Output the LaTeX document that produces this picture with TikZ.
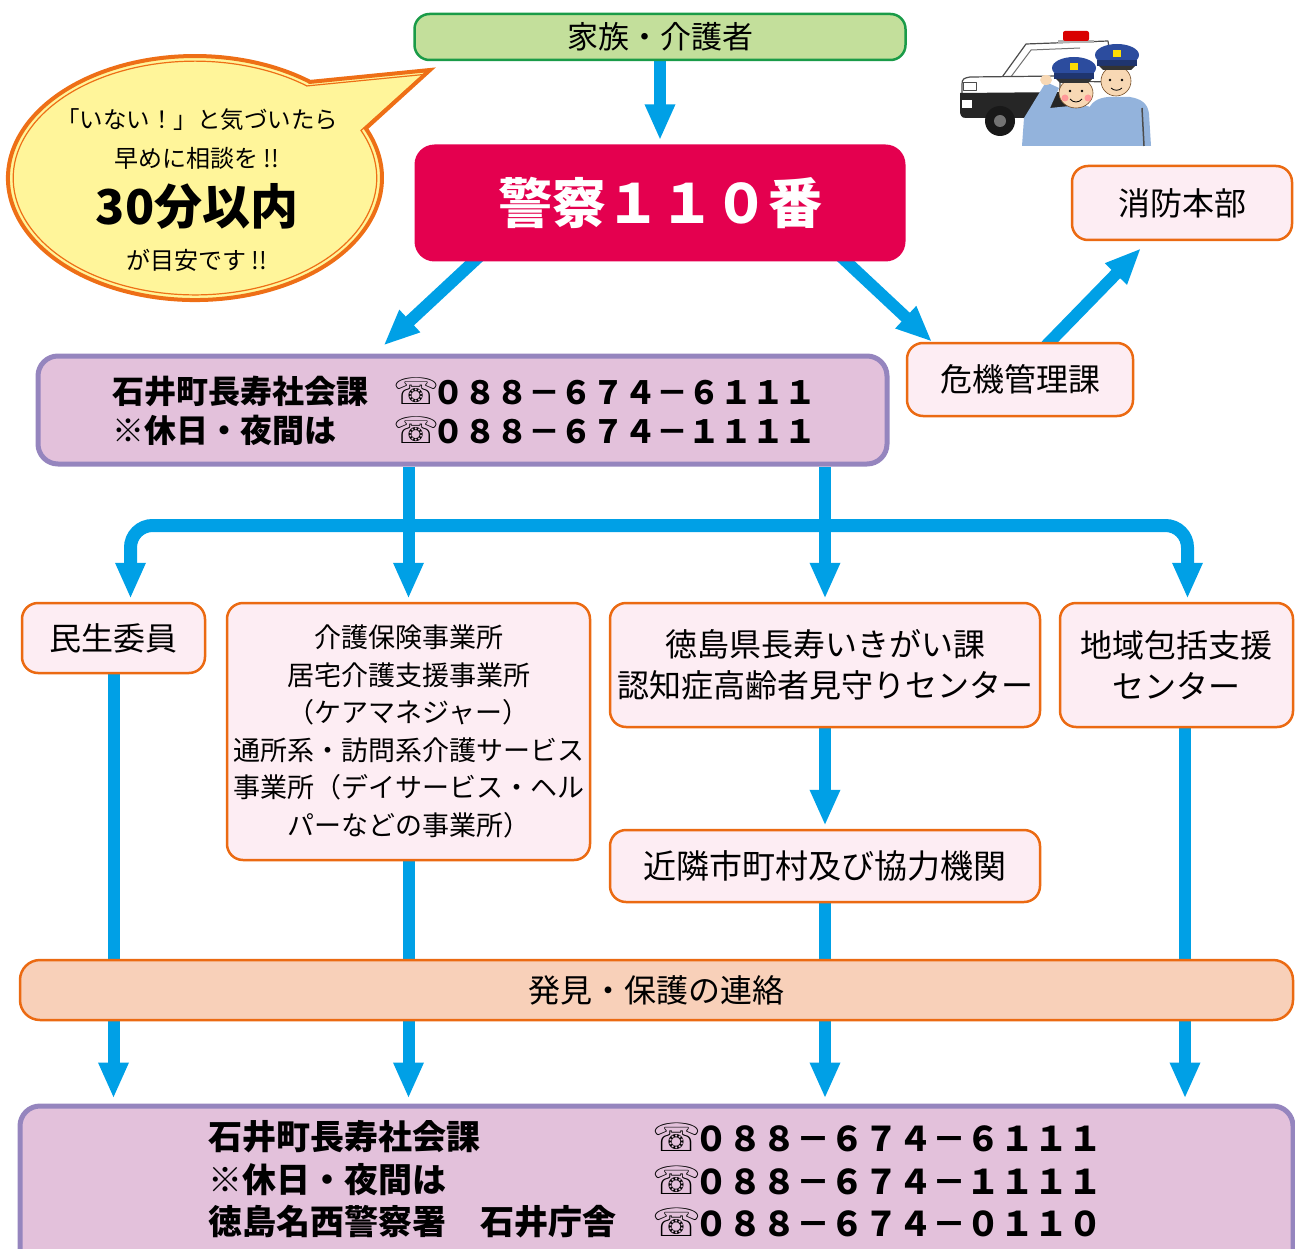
\documentclass[tikz,border=0pt]{standalone}
\usepackage{fontspec}
\newfontfamily\jp{Noto Sans CJK JP}
\newfontfamily\symfont{DejaVu Sans}
\usetikzlibrary{arrows.meta,calc,backgrounds}

\definecolor{flowblue}{HTML}{00A0E6}
\definecolor{edgeorange}{HTML}{EB6A12}
\definecolor{boxpink}{HTML}{FDEDF3}
\definecolor{lilac}{HTML}{E3C1DB}
\definecolor{lilacedge}{HTML}{9585BE}
\definecolor{leafgreen}{HTML}{C3DF9B}
\definecolor{leafedge}{HTML}{1A9B48}
\definecolor{alarmred}{HTML}{E4004F}
\definecolor{peach}{HTML}{F8D0B9}
\definecolor{bubbleyellow}{HTML}{FFF59A}
\definecolor{bubbleedge}{HTML}{EE6F16}
\definecolor{officerblue}{HTML}{93B3DC}
\definecolor{capblue}{HTML}{2C4C9E}
\definecolor{skin}{HTML}{F8D8B4}

\newcommand\tel{\makebox[1em]{\scalebox{1.15}{\symfont ☏}}}

\tikzset{
  flowtip/.tip={Triangle[width=28pt,length=36pt]},
  flow/.style={draw=flowblue, line width=12pt, -flowtip},
  pinkbox/.style={draw=edgeorange, fill=boxpink, line width=2.5pt, rounded corners=16pt,
    align=center, inner sep=0pt, font=\jp\fontsize{32}{41}\selectfont},
  lilacbox/.style={draw=lilacedge, fill=lilac, line width=5pt, rounded corners=20pt, inner sep=0pt},
  boldtxt/.style={anchor=west, inner sep=0pt, font=\jp\bfseries\fontsize{32}{38}\selectfont},
  bigtxt/.style={anchor=west, inner sep=0pt, font=\jp\bfseries\fontsize{34}{40}\selectfont},
  bubtxt/.style={inner sep=0pt, font=\jp\fontsize{24}{28}\selectfont},
}

\begin{document}
\begin{tikzpicture}[x=1pt, y=-1pt]
\useasboundingbox (0,0) rectangle (1295,1249);
\clip (0,0) rectangle (1295,1249);

% ---------- speech bubble ----------
\fill[bubbleyellow] (310.1,81.9) -- (430,70) -- (365.8,128.4)
  arc[start angle=-24, end angle=308, x radius=187, y radius=122] -- cycle;
\draw[bubbleedge, line width=4pt, line join=miter] (310.1,81.9) -- (430,70) -- (365.8,128.4)
  arc[start angle=-24, end angle=308, x radius=187, y radius=122] -- cycle;
\begin{scope}[shift={(195,178)}, xscale=0.972, yscale=0.958, shift={(-195,-178)}]
\draw[bubbleedge, line width=1.2pt, line join=miter] (310.1,81.9) -- (430,70) -- (365.8,128.4)
  arc[start angle=-24, end angle=308, x radius=187, y radius=122] -- cycle;
\end{scope}
\node[bubtxt, font=\jp\fontsize{23.5}{28}\selectfont] (b1) at (197,120) {「いない！」と気づいたら};
\node[bubtxt] (b2) at (197,158) {早めに相談を !!};
\node[inner sep=0pt, font=\jp\bfseries\fontsize{48}{52}\selectfont] (b3) at (197,206) {30分以内};
\node[bubtxt] (b4) at (197,260) {が目安です !!};

% ---------- police car and officers ----------
\begin{scope}[line join=round]
\draw[black!70, fill=white, line width=1.2pt] (1000,80) -- (1026,44) -- (1108,41) -- (1114,82) -- cycle;
\draw[black!55, line width=1pt] (1010,78) -- (1031,50) -- (1080,48);
\fill[gray!60] (1058,40) rectangle (1094,43);
\fill[red!85!black, rounded corners=2pt] (1063,31) rectangle (1089,41);
\draw[black!70, fill=white, line width=1.2pt] (962,112) -- (962,84)
  .. controls (962,79) and (964,78) .. (970,77) -- (1060,76) -- (1060,112) -- cycle;
\fill[black!85] (960,93) -- (1070,92) -- (1070,118) -- (966,118)
  .. controls (961,118) and (960,115) .. (960,110) -- cycle;
\draw[black!70, fill=white, line width=0.8pt] (963,82) rectangle (976,90);
\fill[white] (962,100) rectangle (972,108);
\fill[black!90] (1000,121) circle[radius=15];
\fill[black!55] (1000,121) circle[radius=6];
% officer at the back
\fill[officerblue] (1086,146) -- (1088,112) .. controls (1090,102) and (1098,98) .. (1108,97)
  -- (1130,97) .. controls (1142,99) and (1148,104) .. (1149,114) -- (1151,146) -- cycle;
\draw[black!70, line width=1.5pt] (1142,108) -- (1144,146);
\draw[brown!60!black, line width=0.6pt, fill=skin] (1116,81) ellipse[x radius=15, y radius=15];
\fill[black] (1110,80) circle[radius=1.4] (1122,80) circle[radius=1.4];
\draw[black, line width=0.8pt] (1111,88) .. controls (1114,91) and (1119,91) .. (1122,88);
\fill[capblue] (1117,55) ellipse[x radius=22, y radius=11];
\fill[capblue!70!black] (1097,60) rectangle (1137,66);
\fill[black!80] (1099,66) -- (1135,66) -- (1131,70) -- (1103,70) -- cycle;
\fill[yellow!80!orange] (1113,50) rectangle (1121,57);
% saluting officer
\fill[officerblue] (1022,146) -- (1024,118) -- (1046,82) -- (1059,88) -- (1050,108)
  -- (1080,105) .. controls (1094,106) and (1102,112) .. (1104,120) -- (1107,146) -- cycle;
\draw[brown!60!black, line width=0.6pt, fill=skin] (1076,93) ellipse[x radius=17, y radius=15];
\fill[pink!80!red] (1065,98) circle[radius=3.5] (1088,98) circle[radius=3.5];
\fill[black] (1070,91) circle[radius=1.4] (1082,91) circle[radius=1.4];
\draw[black, line width=0.8pt] (1070,99) .. controls (1073,103) and (1079,103) .. (1082,99);
\fill[capblue] (1074,68) ellipse[x radius=22, y radius=11];
\fill[capblue!70!black] (1054,73) rectangle (1094,79);
\fill[black!80] (1056,79) -- (1092,79) -- (1088,83) -- (1060,83) -- cycle;
\fill[yellow!80!orange] (1070,63) rectangle (1078,70);
\fill[skin] (1046,80) ellipse[x radius=6, y radius=5];
\end{scope}

% ---------- boxes ----------
\node[draw=leafedge, fill=leafgreen, line width=2.5pt, rounded corners=15pt, inner sep=0pt,
  minimum width=491pt, minimum height=46pt, font=\jp\fontsize{31}{36}\selectfont]
  (family) at (660,37) {家族・介護者};
\node[fill=alarmred, rounded corners=20pt, inner sep=0pt, minimum width=491pt, minimum height=117pt,
  text=white, font=\jp\bfseries\fontsize{54}{60}\selectfont]
  (police) at (660,203) {警察１１０番};
\node[pinkbox, minimum width=220pt, minimum height=74pt] (shobo) at (1182,203) {消防本部};
\node[pinkbox, minimum width=226pt, minimum height=73pt] (kiki) at (1020,379.5) {危機管理課};

\node[lilacbox, minimum width=849pt, minimum height=108pt] (choju) at (462.5,410) {};
\node[boldtxt] (c1a) at (112,391) {石井町長寿社会課};
\node[boldtxt] (c1b) at (400,391) {\tel０８８－６７４－６１１１};
\node[boldtxt] (c2a) at (112,430) {※休日・夜間は};
\node[boldtxt] (c2b) at (400,430) {\tel０８８－６７４－１１１１};

\node[pinkbox, minimum width=183pt, minimum height=70pt] (minsei) at (113.5,638) {民生委員};
\node[pinkbox, minimum width=363pt, minimum height=257pt, font=\jp\fontsize{27}{37.5}\selectfont]
  (kaigo) at (408.5,731.5)
  {介護保険事業所\\居宅介護支援事業所\\（ケアマネジャー）\\通所系・訪問系介護サービス\\事業所（デイサービス・ヘル\\パーなどの事業所）};
\node[pinkbox, minimum width=430pt, minimum height=124pt] (ken) at (825,665)
  {徳島県長寿いきがい課\\認知症高齢者見守りセンター};
\node[pinkbox, minimum width=233pt, minimum height=124pt] (chiiki) at (1176.5,665)
  {地域包括支援\\センター};
\node[pinkbox, minimum width=430pt, minimum height=72pt, font=\jp\fontsize{33}{40}\selectfont]
  (kinrin) at (825,866) {近隣市町村及び協力機関};

\node[draw=edgeorange, fill=peach, line width=2.5pt, rounded corners=20pt, inner sep=0pt,
  minimum width=1273pt, minimum height=60pt, font=\jp\fontsize{32}{38}\selectfont]
  (hakken) at (656.5,990) {発見・保護の連絡};

\node[lilacbox, minimum width=1273pt, minimum height=174pt] (bottom) at (656.5,1193) {};
\node[bigtxt] (d1a) at (208,1137) {石井町長寿社会課};
\node[bigtxt] (d1b) at (660,1137) {\tel０８８－６７４－６１１１};
\node[bigtxt] (d2a) at (208,1180) {※休日・夜間は};
\node[bigtxt] (d2b) at (660,1180) {\tel０８８－６７４－１１１１};
\node[bigtxt] (d3a) at (208,1222) {徳島名西警察署　石井庁舎};
\node[bigtxt] (d3b) at (660,1222) {\tel０８８－６７４－０１１０};

% ---------- connectors ----------
\begin{scope}[on background layer]
\draw[flow] (family.south) -- ($(police.north)+(0,-4)$);
\draw[flow] ($(police.south)+(-180,-6)$) -- ($(choju.north)+(-79,-8)$);
\draw[flow] ($(police.south)+(180,-6)$) -- ($(kiki.north)+(-88,0)$);
\draw[flow] ($(kiki.north)+(26,4)$) -- ($(shobo.south)+(-41,7)$);

\draw[flow] (choju.south -| kaigo.north) -- ($(kaigo.north)+(0,-3)$);
\draw[flow] (choju.south -| ken.north) -- ($(ken.north)+(0,-3)$);
\draw[draw=flowblue, line width=13pt, flowtip-flowtip, rounded corners=22pt]
  ($(minsei.north)+(17,-3)$) |- ($(choju.south)+(0,59)$) -| ($(chiiki.north)+(11,-3)$);

\draw[flow] (minsei.south) -- ($(minsei.south |- bottom.north)+(0,-5)$);
\draw[flow] (kaigo.south) -- ($(kaigo.south |- bottom.north)+(0,-5)$);
\draw[flow] (ken.south) -- ($(kinrin.north)+(0,-3)$);
\draw[flow] (kinrin.south) -- ($(kinrin.south |- bottom.north)+(0,-5)$);
\draw[flow] ($(chiiki.south)+(8.5,0)$) -- ($(chiiki.south |- bottom.north)+(8.5,-5)$);
\end{scope}
\end{tikzpicture}
\end{document}
